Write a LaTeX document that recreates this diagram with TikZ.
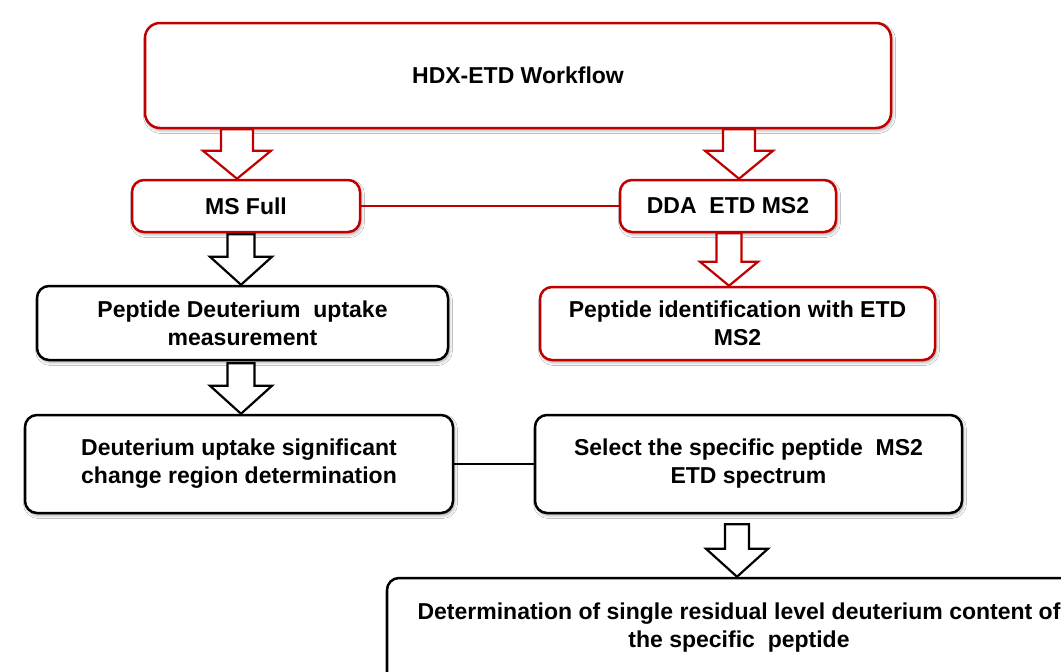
\documentclass[tikz,border=0pt]{standalone}
\usepackage{fontspec}
\setmainfont{Liberation Sans}
\usetikzlibrary{calc,shadows.blur}
\definecolor{boxred}{RGB}{192,0,0}
\newcommand\lbl{\bfseries\fontsize{23}{28}\selectfont}
% #1 style, #2 x, #3 from node, #4 to node, #5 gap below from, #6 shaft half width, #7 head half width, #8 head length
\newcommand\hollowarrow[8]{%
  \filldraw[#1] let \p1=(#3.south), \p2=(#4.north) in
   (#2pt-#6pt,\y1-#5pt) -- (#2pt+#6pt,\y1-#5pt) -- (#2pt+#6pt,\y2+#8pt) --
   (#2pt+#7pt,\y2+#8pt) -- (#2pt,\y2) -- (#2pt-#7pt,\y2+#8pt) --
   (#2pt-#6pt,\y2+#8pt) -- cycle;}
\tikzset{
  boxbase/.style={line width=2.5pt, rounded corners=12pt, fill=white,
    blur shadow={shadow xshift=1.5pt, shadow yshift=-2.5pt, shadow blur radius=3pt, shadow opacity=35},
    align=center, inner sep=0pt, font=\lbl},
  redbox/.style={boxbase, draw=boxred},
  blackbox/.style={boxbase, draw=black},
  arrowbase/.style={fill=white, line width=2.2pt, line join=miter},
  redarrow/.style={arrowbase, draw=boxred},
  blackarrow/.style={arrowbase, draw=black},
  redlink/.style={draw=boxred, line width=2.5pt},
  blacklink/.style={draw=black, line width=2pt},
  txt/.style={align=center, font=\lbl, inner sep=0pt}
}
\begin{document}
\begin{tikzpicture}[x=1pt,y=-1pt]
\useasboundingbox (0,0) rectangle (1061,672);
\fill[white] (0,0) rectangle (1061,672);

\node[redbox, minimum width=746pt, minimum height=105pt, rounded corners=15pt] (top) at (518,75.5) {HDX-ETD Workflow};
\node[redbox, minimum width=228pt, minimum height=52pt] (ms) at (246,206) {MS Full};
\node[redbox, minimum width=216pt, minimum height=52pt] (dda) at (728,206) {DDA\ \ ETD MS2};
\node[blackbox, minimum width=411pt, minimum height=74pt] (pdu) at (242.5,323) {Peptide Deuterium\ \ uptake\\measurement};
\node[redbox, minimum width=395pt, minimum height=73pt] (pid) at (737.5,323.5) {Peptide identification with ETD\\MS2};
\node[blackbox, minimum width=428pt, minimum height=98pt] (dus) at (239,464) {Deuterium uptake significant\\change region determination};
\node[blackbox, minimum width=427pt, minimum height=98pt] (sel) at (748.5,464) {Select the specific peptide\ \ MS2\\ETD spectrum};
\node[blackbox, minimum width=704pt, minimum height=112pt] (det) at (739,634) {};
\node[txt] (dett) at (739,628) {Determination of single residual level deuterium content of\\the specific\ \ peptide};

\draw[redlink] (ms) -- (dda);
\draw[blacklink] (dus) -- (sel);

\hollowarrow{redarrow}{237}{top}{ms}{0}{16}{34}{28}
\hollowarrow{redarrow}{739}{top}{dda}{0}{16}{34}{28}
\hollowarrow{blackarrow}{241}{ms}{pdu}{1}{13.5}{31}{28}
\hollowarrow{redarrow}{729}{dda}{pid}{0}{12.5}{29}{24}
\hollowarrow{blackarrow}{241}{pdu}{dus}{2}{13.5}{31}{28}
\hollowarrow{blackarrow}{737}{sel}{det}{10}{12}{31}{28}
\end{tikzpicture}
\end{document}
